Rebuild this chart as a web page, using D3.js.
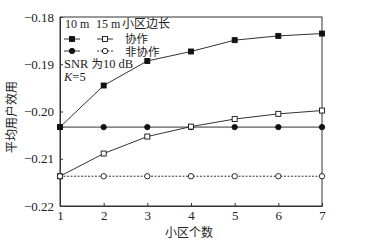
<!DOCTYPE html>
<html>
<head>
  <meta charset="utf-8">
  <style>
    body { margin: 0; background: #fff; }
    text { font-family: "Liberation Serif", "Noto Sans CJK SC", serif; fill: #222; }
    .cjk { font-family: "Noto Sans CJK SC", sans-serif; }
  </style>
</head>
<body>
  <svg id="chart" width="365" height="247"></svg>
  <script src="https://d3js.org/d3.v7.min.js"></script>
  <script>
    // cell counts and y ticks
    const cells = [1, 2, 3, 4, 5, 6, 7]
    const yTicks = [-0.18, -0.19, -0.20, -0.21, -0.22]

    // average user utility
    const coop10 = [-0.2033, -0.1945, -0.1893, -0.1873, -0.1849, -0.1840, -0.1835]
    const nonCoop10 = [-0.2033, -0.2033, -0.2033, -0.2033, -0.2033, -0.2033, -0.2033]
    const coop15 = [-0.2137, -0.2089, -0.2053, -0.2032, -0.2016, -0.2005, -0.1998]
    const nonCoop15 = [-0.2137, -0.2137, -0.2137, -0.2137, -0.2137, -0.2137, -0.2137]

    const series = [
      { values: coop10, marker: 'square', fill: '#111', dash: null },
      { values: nonCoop10, marker: 'circle', fill: '#111', dash: null },
      { values: coop15, marker: 'square', fill: '#fff', dash: null },
      { values: nonCoop15, marker: 'circle', fill: '#fff', dash: '2,1.5' }
    ]

    const m = { left: 60, right: 322, top: 17, bottom: 206 }
    const svg = d3.select('#chart')
    const x = d3.scaleLinear().domain([1, 7]).range([m.left, m.right])
    const y = d3.scaleLinear().domain([-0.22, -0.18]).range([m.bottom, m.top])
    const ink = '#333'

    // frame
    svg.append('rect')
      .attr('x', m.left).attr('y', m.top)
      .attr('width', m.right - m.left).attr('height', m.bottom - m.top)
      .attr('fill', 'none').attr('stroke', ink).attr('stroke-width', 1)

    const xAxis = svg.append('g').attr('transform', `translate(0,${m.bottom})`)
      .call(d3.axisBottom(x).tickValues(cells).tickSizeInner(-3).tickSizeOuter(0).tickPadding(5)
        .tickFormat(d3.format('d')))
    const yAxis = svg.append('g').attr('transform', `translate(${m.left},0)`)
      .call(d3.axisLeft(y).tickValues(yTicks).tickSizeInner(-3).tickSizeOuter(0).tickPadding(6)
        .tickFormat(d => d3.format('.2f')(d).replace('-', '\u2013')))
    ;[xAxis, yAxis].forEach(a => {
      a.select('.domain').attr('stroke', ink)
      a.selectAll('.tick line').attr('stroke', ink)
      a.selectAll('.tick text').attr('font-family', '"Liberation Serif", serif')
        .attr('font-size', 13).attr('fill', '#222')
    })

    const line = d3.line().x((d, i) => x(cells[i])).y(d => y(d))

    function drawMarker(g, type, cx, cy, fill) {
      if (type === 'square') {
        g.append('rect').attr('x', cx - 2.5).attr('y', cy - 2.5).attr('width', 5).attr('height', 5)
          .attr('fill', fill).attr('stroke', '#111').attr('stroke-width', 0.9)
      } else {
        g.append('circle').attr('cx', cx).attr('cy', cy).attr('r', 2.7)
          .attr('fill', fill).attr('stroke', '#111').attr('stroke-width', 0.9)
      }
    }

    series.forEach(s => {
      svg.append('path').datum(s.values).attr('d', line)
        .attr('fill', 'none').attr('stroke', ink).attr('stroke-width', 1)
        .attr('stroke-dasharray', s.dash)
      const g = svg.append('g')
      s.values.forEach((v, i) => drawMarker(g, s.marker, x(cells[i]), y(v), s.fill))
    })

    // legend
    const lg = svg.append('g')
    lg.append('text').attr('x', 65).attr('y', 28).attr('font-size', 12).text('10 m')
    lg.append('text').attr('x', 96).attr('y', 28).attr('font-size', 12).text('15 m')
    lg.append('text').attr('x', 122).attr('y', 28).attr('font-size', 12).text('小区边长')
    const rows = [
      { y: 39, ty: 43, a: series[0], b: series[2], label: '协作' },
      { y: 51, ty: 56, a: series[1], b: series[3], label: '非协作' }
    ]
    rows.forEach(r => {
      ;[[r.a, 64], [r.b, 97]].forEach(([s, x0]) => {
        lg.append('line').attr('x1', x0).attr('x2', x0 + 16).attr('y1', r.y).attr('y2', r.y)
          .attr('stroke', ink).attr('stroke-width', 1).attr('stroke-dasharray', s.dash)
        drawMarker(lg, s.marker, x0 + 8, r.y, s.fill)
      })
      lg.append('text').attr('x', 125).attr('y', r.ty)
        .attr('font-size', 11.5).text(r.label)
    })
    const snr = lg.append('text').attr('x', 64).attr('y', 68).attr('font-size', 12.5)
    snr.append('tspan').text('SNR ')
    snr.append('tspan').attr('font-size', 11.5).text('为')
    snr.append('tspan').text('10 dB')
    const k = lg.append('text').attr('x', 64).attr('y', 81).attr('font-size', 12.5)
    k.append('tspan').attr('font-style', 'italic').text('K')
    k.append('tspan').text('=5')

    // axis titles
    svg.append('text').attr('class', 'cjk').attr('x', 189).attr('y', 237)
      .attr('text-anchor', 'middle').attr('font-size', 12).text('小区个数')
    svg.append('text').attr('class', 'cjk')
      .attr('transform', 'translate(16,117) rotate(-90)')
      .attr('text-anchor', 'middle').attr('font-size', 12).text('平均用户效用')
  </script>
</body>
</html>
